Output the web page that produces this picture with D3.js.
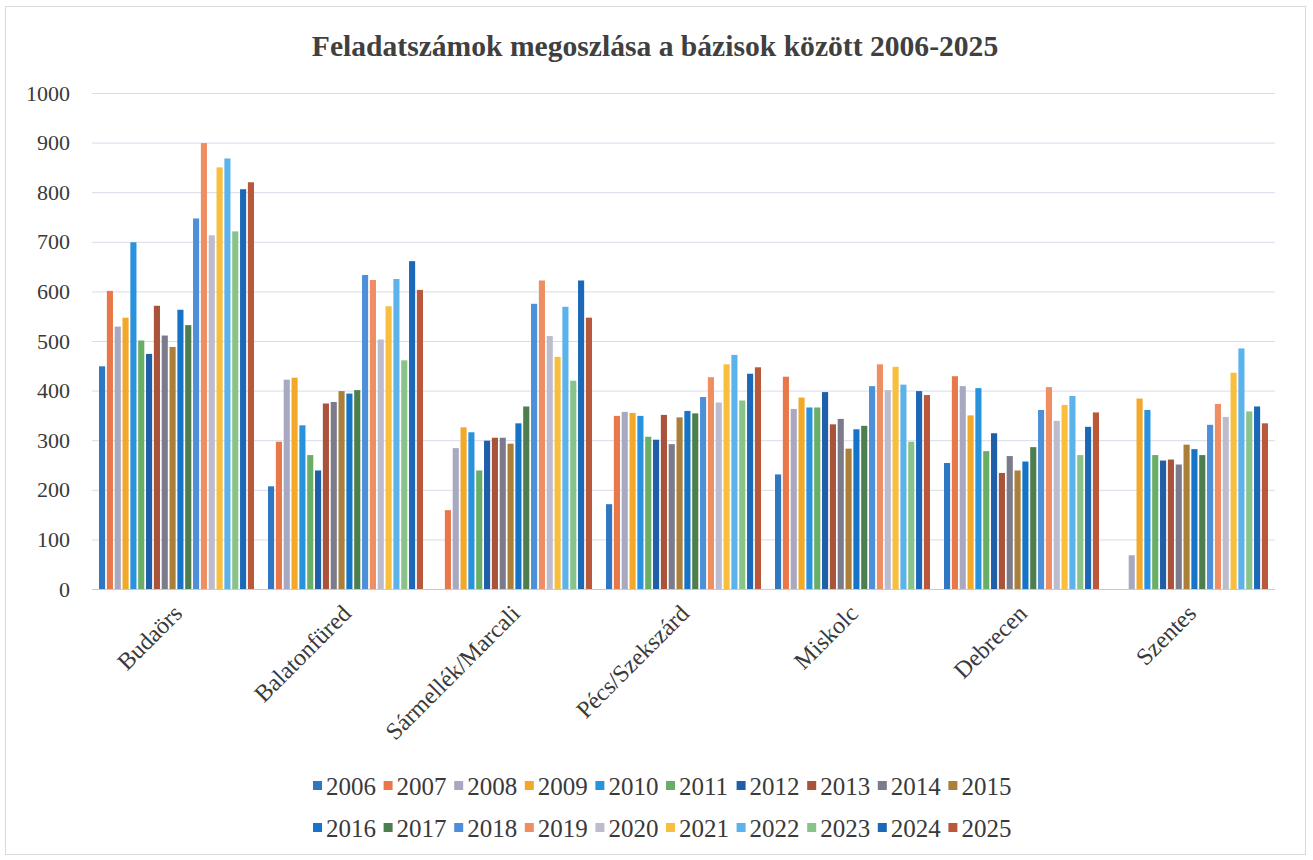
<!DOCTYPE html>
<html>
<head>
<meta charset="utf-8">
<script src="https://cdn.jsdelivr.net/npm/d3@7"></script>
<style>
  html, body { margin: 0; padding: 0; background: #ffffff; }
  svg { display: block; }
  svg text { font-family: "Liberation Serif", "DejaVu Serif", serif !important; fill: #3a3a3a; }
</style>
</head>
<body>
<svg id="chart" width="1313" height="860"></svg>
<script>
const title = "Feladatszámok megoszlása a bázisok között 2006-2025";
const categories = ["Budaörs", "Balatonfüred", "Sármellék/Marcali", "Pécs/Szekszárd", "Miskolc", "Debrecen", "Szentes"];
const years = ["2006","2007","2008","2009","2010","2011","2012","2013","2014","2015","2016","2017","2018","2019","2020","2021","2022","2023","2024","2025"];
const yTicks = [0,100,200,300,400,500,600,700,800,900,1000];

// values per year, in category order
const v2006 = [449, 207, 0, 171, 231, 254, 0];
const v2007 = [601, 297, 159, 349, 428, 429, 0];
const v2008 = [529, 422, 284, 357, 363, 409, 68];
const v2009 = [547, 426, 326, 355, 386, 350, 384];
const v2010 = [699, 330, 316, 349, 366, 405, 361];
const v2011 = [501, 270, 239, 307, 366, 278, 270];
const v2012 = [474, 239, 299, 301, 397, 314, 259];
const v2013 = [571, 374, 305, 351, 332, 234, 261];
const v2014 = [511, 377, 305, 292, 343, 268, 251];
const v2015 = [488, 399, 293, 346, 283, 239, 291];
const v2016 = [563, 394, 334, 359, 322, 257, 282];
const v2017 = [532, 401, 368, 354, 329, 286, 270];
const v2018 = [747, 633, 575, 387, 409, 361, 331];
const v2019 = [899, 623, 622, 427, 453, 407, 373];
const v2020 = [713, 503, 510, 376, 401, 339, 347];
const v2021 = [850, 570, 468, 453, 448, 371, 436];
const v2022 = [868, 625, 569, 472, 412, 389, 485];
const v2023 = [721, 461, 420, 380, 297, 270, 358];
const v2024 = [806, 661, 622, 434, 399, 327, 368];
const v2025 = [820, 603, 547, 447, 391, 356, 334];
const seriesValues = [v2006,v2007,v2008,v2009,v2010,v2011,v2012,v2013,v2014,v2015,v2016,v2017,v2018,v2019,v2020,v2021,v2022,v2023,v2024,v2025];

const colors = ["#2F77C3","#E8784A","#A8A8C0","#F2A92A","#2893DC","#69AE67","#1F5FAA","#A9533A","#7B7B8B","#A97F3A",
                "#1574C6","#4D7E4E","#4D8FD8","#EE8E62","#BCBCCE","#F8BE3D","#5CB2EA","#88C38A","#1B68B8","#B9583A"];

const FONT = "'Liberation Serif', 'DejaVu Serif', serif";
const svg = d3.select("#chart");

// chart border
svg.append("rect").attr("x", 5.5).attr("y", 6.5).attr("width", 1300).attr("height", 848)
  .attr("fill", "#ffffff").attr("stroke", "#d9d9d9").attr("stroke-width", 1);

const plot = { left: 92, right: 1275, top: 93, bottom: 589 };

const x0 = d3.scaleBand().domain(categories).range([plot.left, plot.right])
  .paddingInner(0.083).paddingOuter(0.0415);
const x1 = d3.scaleBand().domain(years).range([0, x0.bandwidth()]).paddingInner(0.22);
const y = d3.scaleLinear().domain([0, 1000]).range([plot.bottom, plot.top]);
const color = d3.scaleOrdinal().domain(years).range(colors);

// title
svg.append("text").attr("x", 655).attr("y", 56).attr("text-anchor", "middle")
  .style("font-family", FONT)
  .style("font-size", "29.6px").style("font-weight", "bold").style("fill", "#404040").text(title);

// gridlines + y labels
const yAxis = d3.axisLeft(y).tickValues(yTicks).tickFormat(d3.format("d"))
  .tickSize(-(plot.right - plot.left)).tickPadding(22);
const gy = svg.append("g").attr("transform", `translate(${plot.left},0)`).call(yAxis)
  .attr("font-family", FONT);
gy.select(".domain").remove();
gy.selectAll(".tick line").attr("stroke", d => d === 0 ? "#c9c9c9" : "#d6dcea").attr("stroke-width", 1);
gy.selectAll(".tick text").style("font-size", "22px").style("fill", "#3a3a3a")
  .style("font-family", FONT);

// bars
const groups = svg.append("g").selectAll("g").data(categories).join("g")
  .attr("transform", d => `translate(${x0(d)},0)`);
groups.selectAll("rect").data((c, ci) => years.map((yr, si) => ({ yr, v: seriesValues[si][ci] })))
  .join("rect")
  .attr("x", d => x1(d.yr))
  .attr("width", x1.bandwidth())
  .attr("y", d => y(d.v))
  .attr("height", d => y(0) - y(d.v))
  .attr("fill", d => color(d.yr));

// category labels rotated
const xAxis = d3.axisBottom(x0).tickSize(0).tickPadding(0);
const gx = svg.append("g").attr("transform", `translate(0,${plot.bottom})`).call(xAxis)
  .attr("font-family", FONT);
gx.select(".domain").remove();
gx.selectAll(".tick text")
  .attr("text-anchor", "end")
  .attr("dy", null).attr("y", null)
  .attr("transform", "translate(7,26) rotate(-45)")
  .style("font-size", "24px").style("fill", "#3a3a3a")
  .style("font-family", FONT);

// legend
const legendRows = [years.slice(0, 10), years.slice(10)];
const legendX0 = 313, legendStep = 70.6, legendY = [786, 828];
legendRows.forEach((row, ri) => {
  const g = svg.append("g").attr("transform", `translate(${legendX0},${legendY[ri]})`);
  const items = g.selectAll("g").data(row).join("g")
    .attr("transform", (d, i) => `translate(${i * legendStep},0)`);
  items.append("rect").attr("x", 0).attr("y", -5).attr("width", 9).attr("height", 9)
    .attr("fill", d => color(d));
  items.append("text").attr("x", 13).attr("y", 0).attr("dy", "0.35em")
    .style("font-family", FONT)
    .style("font-size", "25px").style("fill", "#3a3a3a").text(d => d);
});
</script>
</body>
</html>
